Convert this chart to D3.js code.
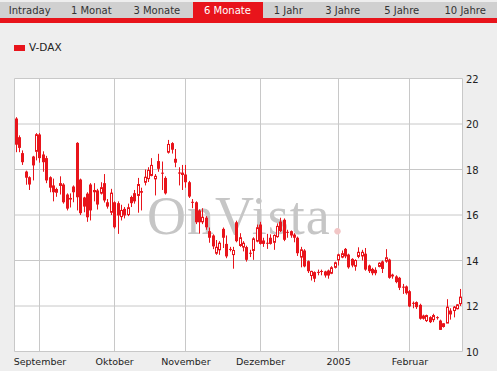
<!DOCTYPE html>
<html>
<head>
<meta charset="utf-8">
<script src="https://cdn.jsdelivr.net/npm/d3@7"></script>
<style>
    body { margin: 0; background: #eeeeee; }
    #chart-area { width: 497px; height: 371px; }
</style>
</head>
<body>
<div id="chart-area"></div>
<script>

// tabs on top
let tabLabels = ["Intraday", "1 Monat", "3 Monate", "6 Monate", "1 Jahr", "3 Jahre", "5 Jahre", "10 Jahre"]
let activeTab = "6 Monate"

let seriesName = "V-DAX"

// month labels and the trading day index where each month starts
let monthLabels = ["September", "Oktober", "November", "Dezember", "2005", "Februar"]
let monthStart = [7, 29, 50, 72, 95, 116]

let yTicks = [10, 12, 14, 16, 18, 20, 22]

// daily candles, Aug 2004 - Feb 2005
let openVals = [20.24,19.42,18.72,17.91,17.66,18.57,18.8,19.54,18.66,18.5,17.66,17.3,17.0,17.3,17.34,16.9,16.75,17.25,19.17,17.56,
    16.77,16.94,17.34,17.1,17.08,16.96,17.4,16.56,16.12,16.56,16.52,15.93,16.27,16.02,16.79,16.96,16.86,17.05,17.44,17.6,
    17.74,17.59,18.37,17.86,17.63,18.76,19.16,18.47,17.87,17.78,17.78,17.44,16.58,16.56,16.2,15.7,15.88,15.29,15.1,14.32,
    14.47,15.39,14.73,14.51,14.26,15.68,14.66,14.59,14.59,14.34,14.44,14.85,15.58,14.88,14.78,15.0,14.8,15.05,15.71,15.79,
    15.26,15.29,15.14,15.0,14.15,14.44,13.97,13.34,13.49,13.5,13.54,13.52,13.56,13.44,13.7,14.03,14.15,14.51,14.26,14.07,
    13.75,14.18,14.2,14.3,13.78,13.63,13.59,13.74,13.96,13.97,14.04,13.38,13.3,13.24,12.85,12.86,12.65,12.14,12.17,12.05,
    11.58,11.36,11.51,11.4,11.51,11.36,11.1,11.25,11.8,11.8,11.88,12.1]
let highVals = [20.3,19.5,18.84,17.95,17.7,18.6,19.6,19.6,18.8,18.6,17.7,17.6,17.2,17.7,17.4,16.95,16.95,17.3,19.2,17.6,
    16.8,17.0,17.4,17.4,17.15,17.44,17.8,16.7,17.15,16.6,16.6,16.45,16.35,16.5,16.85,17.1,17.63,17.2,18.0,18.1,
    18.5,17.8,18.69,18.35,17.7,19.3,19.2,18.9,18.1,18.2,18.2,17.5,16.7,16.6,16.25,16.3,15.95,15.45,15.15,14.9,
    14.85,15.45,15.1,14.6,14.6,15.75,15.2,14.85,14.65,14.47,15.02,15.58,15.7,15.0,15.17,15.15,15.15,15.63,15.88,15.85,
    15.35,15.32,15.2,15.05,14.6,14.5,14.0,13.55,13.52,13.6,13.6,13.55,13.6,13.75,13.95,14.3,14.44,14.55,14.3,14.1,
    14.05,14.58,14.47,14.55,13.82,13.68,13.7,13.92,14.0,14.5,14.08,13.42,13.35,13.28,12.97,12.9,12.7,12.2,12.2,12.1,
    11.62,11.62,11.55,11.66,11.55,11.4,11.25,12.3,11.9,12.0,12.08,12.75]
let lowVals = [18.76,18.76,18.2,17.33,17.1,17.52,18.4,18.3,17.9,17.4,17.0,16.6,16.8,16.9,16.5,16.2,16.33,16.56,16.2,16.0,
    16.12,15.7,15.76,16.6,16.24,16.9,16.55,16.28,16.0,15.4,15.17,15.76,15.85,15.95,16.35,16.5,16.1,16.2,17.3,17.45,
    17.7,16.86,17.9,17.1,16.9,18.7,18.7,18.1,17.3,17.1,17.2,16.75,16.3,15.6,15.18,15.6,15.35,14.78,14.5,14.25,
    14.25,14.55,14.1,14.4,13.64,14.8,14.6,14.4,13.95,14.15,14.03,14.8,14.7,14.6,14.51,14.7,14.47,15.0,15.25,14.85,
    15.0,15.0,14.8,14.2,13.7,13.7,13.45,13.12,13.05,13.35,13.35,13.25,13.2,13.4,13.65,13.78,14.1,14.1,13.64,13.7,
    13.55,14.1,14.0,13.55,13.45,13.35,13.35,13.7,13.45,13.9,13.2,13.2,13.0,12.7,12.53,12.5,11.95,11.9,11.87,11.4,
    11.4,11.3,11.25,11.29,11.4,10.95,11.05,11.25,11.4,11.5,11.85,12.0]
let closeVals = [19.09,18.95,18.32,17.64,17.34,18.18,19.53,18.5,18.32,17.52,17.2,17.0,17.12,17.38,16.56,16.28,16.68,17.0,16.78,16.08,
    16.37,15.9,16.2,17.0,16.46,17.2,16.64,16.37,16.96,15.46,15.98,16.2,15.98,16.32,16.52,16.6,17.34,16.98,17.66,17.96,
    18.18,17.7,18.03,17.82,16.95,19.1,18.87,18.3,17.82,17.84,17.44,16.81,16.54,15.68,15.68,15.9,15.46,15.0,14.62,14.58,
    14.76,15.0,14.18,14.48,14.44,14.85,15.0,14.76,14.03,14.3,14.95,15.44,14.73,14.73,14.74,14.73,15.1,15.5,15.29,14.91,
    15.23,15.1,15.0,14.32,14.47,13.74,13.53,13.52,13.2,13.48,13.52,13.34,13.34,13.68,13.9,14.25,14.3,14.18,13.7,13.78,
    14.0,14.36,14.36,13.6,13.53,13.44,13.44,13.88,13.63,14.12,13.24,13.3,13.05,12.8,12.81,12.56,11.98,12.12,11.95,11.44,
    11.44,11.58,11.29,11.58,11.49,10.95,11.22,11.95,11.63,11.95,12.05,12.39]


class CandleChart {
    constructor(parentElement) {
        this.parentElement = parentElement
        this.red = "#e8141b"
        this.grid = "#c8c8c8"
        this.initVis()
    }

    initVis() {
        let vis = this;

        vis.width = 497;
        vis.height = 371;
        vis.plot = {left: 14.5, right: 462.5, top: 78.5, bottom: 351.5};

        vis.svg = d3.select("#" + vis.parentElement).append("svg")
            .attr("width", vis.width)
            .attr("height", vis.height)
            .style("font-family", "'DejaVu Sans', sans-serif");

        vis.svg.append("rect")
            .attr("width", vis.width).attr("height", vis.height)
            .attr("fill", "#eeeeee");

        // tab bar - label centres as they sit on the site
        vis.tabCenters = [29.7, 91.3, 156.8, 227.5, 288.3, 342.7, 401.7, 465.2];
        vis.svg.append("rect")
            .attr("x", 0).attr("y", 2).attr("width", vis.width).attr("height", 16)
            .attr("fill", "#d0d0d0");
        vis.svg.append("rect")
            .attr("x", 0).attr("y", 18).attr("width", vis.width).attr("height", 5)
            .attr("fill", vis.red);
        vis.svg.append("rect")
            .attr("x", 193).attr("y", 2).attr("width", 70).attr("height", 16)
            .attr("fill", vis.red);
        vis.svg.selectAll(".tab")
            .data(tabLabels)
            .enter().append("text")
            .attr("class", "tab")
            .attr("x", (d, i) => vis.tabCenters[i])
            .attr("y", 14)
            .attr("text-anchor", "middle")
            .attr("font-size", "10px")
            .attr("fill", d => d == activeTab ? "#ffffff" : "#333333")
            .text(d => d);

        // legend
        vis.svg.append("rect")
            .attr("x", 14).attr("y", 45).attr("width", 11).attr("height", 6)
            .attr("fill", vis.red);
        vis.svg.append("text")
            .attr("x", 29).attr("y", 51)
            .attr("font-size", "10.5px")
            .attr("fill", "#222")
            .text(seriesName);

        // plot background
        vis.svg.append("rect")
            .attr("x", vis.plot.left).attr("y", vis.plot.top)
            .attr("width", vis.plot.right - vis.plot.left)
            .attr("height", vis.plot.bottom - vis.plot.top)
            .attr("fill", "#ffffff");

        vis.x = d3.scaleBand()
            .domain(d3.range(openVals.length))
            .range([vis.plot.left, vis.plot.right]);

        vis.y = d3.scaleLinear()
            .domain([10, 22])
            .range([vis.plot.bottom, vis.plot.top]);

        vis.wrangleData()
    }

    wrangleData() {
        let vis = this;

        vis.displayData = openVals.map((o, i) => ({
            i: i,
            open: o,
            high: highVals[i],
            low: lowVals[i],
            close: closeVals[i]
        }));

        vis.months = monthLabels.map((m, k) => ({label: m, i: monthStart[k]}));

        vis.updateVis()
    }

    updateVis() {
        let vis = this;
        let cx = i => vis.x(i) + vis.x.bandwidth() / 2;
        let snap = v => Math.floor(v) + 0.5;

        // horizontal grid + right axis labels
        vis.svg.selectAll(".hgrid")
            .data(yTicks)
            .enter().append("line")
            .attr("class", "hgrid")
            .attr("x1", vis.plot.left).attr("x2", vis.plot.right)
            .attr("y1", d => vis.y(d)).attr("y2", d => vis.y(d))
            .attr("stroke", vis.grid);

        vis.svg.selectAll(".ylab")
            .data(yTicks)
            .enter().append("text")
            .attr("class", "ylab")
            .attr("x", 466)
            .attr("y", d => vis.y(d) + 4)
            .attr("font-size", "10px")
            .attr("fill", "#222")
            .text(d => d);

        // month grid lines + labels
        vis.svg.selectAll(".vgrid")
            .data(vis.months)
            .enter().append("line")
            .attr("class", "vgrid")
            .attr("x1", d => snap(cx(d.i))).attr("x2", d => snap(cx(d.i)))
            .attr("y1", vis.plot.top).attr("y2", vis.plot.bottom)
            .attr("stroke", vis.grid);

        vis.svg.selectAll(".xlab")
            .data(vis.months)
            .enter().append("text")
            .attr("class", "xlab")
            .attr("x", d => cx(d.i))
            .attr("y", 365)
            .attr("text-anchor", "middle")
            .attr("font-size", "9.5px")
            .attr("fill", "#222")
            .text(d => d.label);

        // frame left/right
        [vis.plot.left, vis.plot.right].forEach(xv => {
            vis.svg.append("line")
                .attr("x1", xv).attr("x2", xv)
                .attr("y1", vis.plot.top).attr("y2", vis.plot.bottom)
                .attr("stroke", vis.grid);
        });

        // watermark
        let wm = vis.svg.append("text")
            .attr("x", 147).attr("y", 234)
            .attr("font-family", "'Liberation Serif', serif")
            .attr("font-size", "54px")
            .attr("letter-spacing", "1px")
            .attr("fill", "#c6c6c6")
            .text("OnVista");
        wm.append("tspan").attr("fill", "#f2c6c6").text(".");

        // candles
        let candle = vis.svg.selectAll(".candle")
            .data(vis.displayData)
            .enter().append("g")
            .attr("class", "candle");

        candle.append("line")
            .attr("x1", d => snap(cx(d.i))).attr("x2", d => snap(cx(d.i)))
            .attr("y1", d => vis.y(d.high)).attr("y2", d => vis.y(d.low))
            .attr("stroke", vis.red);

        candle.append("rect")
            .attr("x", d => d.close >= d.open ? Math.floor(cx(d.i)) - 0.5 : Math.floor(cx(d.i)) - 1)
            .attr("width", d => d.close >= d.open ? 2 : 3)
            .attr("y", d => vis.y(Math.max(d.open, d.close)))
            .attr("height", d => Math.max(1, Math.abs(vis.y(d.open) - vis.y(d.close))))
            .attr("fill", d => d.close >= d.open ? "#ffffff" : vis.red)
            .attr("stroke", d => d.close >= d.open ? vis.red : "none");
    }
}

let chart = new CandleChart("chart-area")
</script>
</body>
</html>
